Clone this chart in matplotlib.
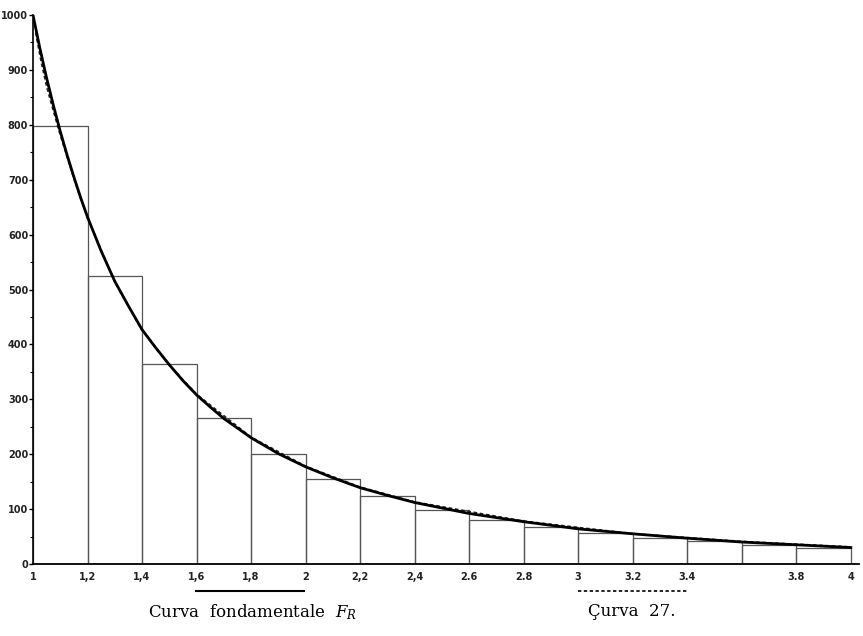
import matplotlib
matplotlib.use("Agg")
import matplotlib.pyplot as plt
from matplotlib.lines import Line2D
import numpy as np

plt.rcParams["mathtext.fontset"] = "dejavuserif"

# Histogram bins (left edges, width 0.2) and heights
bin_edges = [1.0, 1.2, 1.4, 1.6, 1.8, 2.0, 2.2, 2.4, 2.6, 2.8, 3.0, 3.2, 3.4, 3.6, 3.8, 4.0]
bar_heights = [797, 524, 364, 266, 200, 155, 124, 98, 80, 67, 56, 47, 41, 35, 30]

# Fundamental curve F_R
curve_x = [1.0, 1.025, 1.05, 1.075, 1.1, 1.125, 1.15, 1.175, 1.2, 1.25, 1.3, 1.35, 1.4, 1.45, 1.5,
           1.55, 1.6, 1.65, 1.7, 1.8, 1.9, 2.0, 2.1, 2.2, 2.3, 2.4, 2.6, 2.8, 3.0, 3.2, 3.4,
           3.6, 3.8, 4.0]
curve_y = [1000, 940, 885, 835, 788, 745, 705, 667, 632, 570, 515, 470, 427, 394, 363,
           334, 308, 286, 265, 230, 201, 177, 157, 139, 125, 112, 92, 77, 64, 55, 47,
           40, 35, 30]

# Curva 27 (dashed)
c27_x = [1.01, 1.03, 1.05, 1.075, 1.1, 1.15, 1.2, 1.3, 1.4, 1.5, 1.6, 1.8, 2.0, 2.2, 2.4,
         2.8, 3.2, 3.6, 4.0]
c27_y = [968, 915, 870, 825, 782, 702, 630, 514, 426, 362, 309, 231, 178, 140, 113,
         78, 55, 41, 31]

xtick_vals = [1.0, 1.2, 1.4, 1.6, 1.8, 2.0, 2.2, 2.4, 2.6, 2.8, 3.0, 3.2, 3.4, 3.8, 4.0]
xtick_labels = ["1", "1,2", "1,4", "1,6", "1,8", "2", "2,2", "2,4", "2.6", "2.8", "3", "3.2", "3.4", "3.8", "4"]
ytick_vals = [0, 100, 200, 300, 400, 500, 600, 700, 800, 900, 1000]
ytick_labels = ["0", "100", "200", "300", "400", "500", "600", "700", "800", "900", "1000"]

fig = plt.figure(figsize=(8.63, 6.36), dpi=100)
ax = fig.add_axes([33/863, 72/636, (859-33)/863, (621-72)/636])

lefts = np.array(bin_edges[:-1])
widths = np.diff(bin_edges)
ax.bar(lefts, bar_heights, width=widths, align="edge", fill=False,
       edgecolor="#555555", linewidth=0.9)

ax.plot(c27_x, c27_y, color="#222222", linewidth=1.3, linestyle=(0, (2, 1.5)))
ax.plot(curve_x, curve_y, color="black", linewidth=2.0)

ax.set_xlim(1.0, 4.03)
ax.set_ylim(0, 1000)
ax.set_xticks(xtick_vals)
ax.set_xticklabels(xtick_labels)
ax.set_yticks(ytick_vals)
ax.set_yticklabels(ytick_labels)
ax.set_yticks(np.arange(50, 1000, 100), minor=True)
ax.tick_params(axis="x", length=0, pad=6, labelsize=7)
ax.tick_params(axis="y", which="major", length=3, width=1, pad=0.5, labelsize=7)
ax.tick_params(axis="y", which="minor", length=2, width=0.8)
for lab in ax.get_xticklabels() + ax.get_yticklabels():
    lab.set_fontweight("semibold")
    lab.set_color("#222222")

for s in ["top", "right"]:
    ax.spines[s].set_visible(False)
ax.spines["left"].set_linewidth(1.2)
ax.spines["bottom"].set_linewidth(1.3)

# Legend-like captions below the axis
fig.add_artist(Line2D([196/863, 304/863], [1-591/636, 1-591/636], color="black", linewidth=1.5))
fig.add_artist(Line2D([578/863, 687/863], [1-591/636, 1-591/636], color="black",
                      linewidth=1.2, linestyle=(0, (2, 1.5))))
fig.text(253/863, 1-612/636, "Curva  fondamentale  $F_R$", ha="center", va="center",
         fontsize=12, family="DejaVu Serif")
fig.text(632/863, 1-612/636, "Çurva  27.", ha="center", va="center",
         fontsize=12, family="DejaVu Serif")

fig.savefig("out.png", dpi=100, facecolor="white")
